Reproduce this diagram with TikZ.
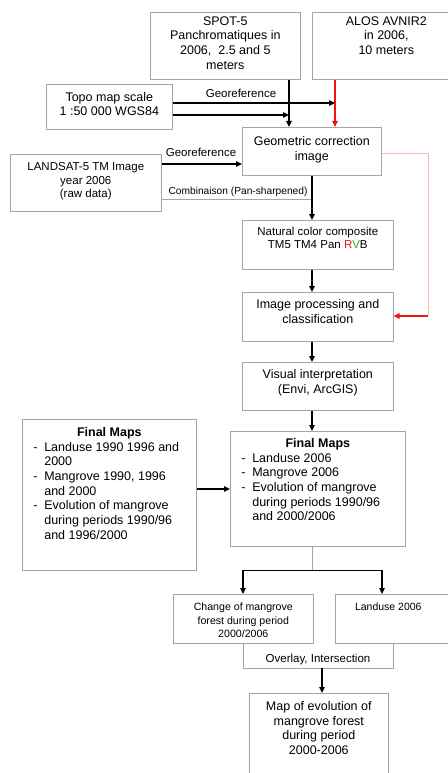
\documentclass[tikz,border=0pt]{standalone}
\usepackage{fontspec}
\setmainfont{Liberation Sans}
\usetikzlibrary{arrows.meta,positioning}
\definecolor{boxgray}{RGB}{165,165,165}
\definecolor{pinkline}{RGB}{245,185,185}
\definecolor{redline}{RGB}{240,20,20}
\definecolor{rvbgreen}{RGB}{60,160,60}
\newcommand{\boxtext}[4]{\parbox[t][#2][t]{#1}{\centering\rule{0pt}{#3}#4\par}}
\newcommand{\itm}[1]{\par\noindent\hspace*{11pt}\makebox[11pt][l]{-}#1}
\newcommand{\cnt}[1]{\par\noindent\hspace*{22pt}#1}

\begin{document}
\begin{tikzpicture}[x=1pt,y=-1pt,
    box/.style={draw=boxgray, line width=0.6pt, inner sep=0pt, anchor=north west},
    big/.style={font=\fontsize{12.5}{14.7}\selectfont},
    mid/.style={font=\fontsize{11.5}{13.8}\selectfont},
    small/.style={font=\fontsize{10.6}{13.7}\selectfont},
    lbl/.style={inner sep=0pt, anchor=base},
    arrow/.style={line width=1.3pt,->,>={Triangle[length=6pt,width=5.5pt]}},
    redarrow/.style={arrow, draw=redline},
    thin/.style={draw=boxgray, line width=0.6pt}]

    \useasboundingbox (0,0) rectangle (447,773);

    % Nodes
    \node [box,big] (spot) at (150,12) {\boxtext{150pt}{67pt}{13pt}{SPOT-5\\Panchromatiques in\\2006,~ 2.5 and 5\\meters}};
    \node [box,big] (alos) at (312,12) {\boxtext{148pt}{67pt}{13pt}{ALOS AVNIR2\\in 2006,\\10 meters}};
    \node [box,big] (topo) at (46,84) {\boxtext{126pt}{45pt}{17pt}{Topo map scale\\1 :50 000 WGS84}};
    \node [box,big] (geom) at (242,127) {\boxtext{139pt}{48pt}{18pt}{Geometric correction\\image}};
    \node [box,mid] (landsat) at (10,154) {\boxtext{151pt}{57pt}{16pt}{LANDSAT-5 TM Image\\year 2006\\(raw data)}};
    \node [box,font=\fontsize{11.5}{13.3}\selectfont] (natural) at (242,220) {\boxtext{151pt}{49pt}{15pt}{Natural color composite\\TM5 TM4 Pan \textcolor{redline}{R}\textcolor{rvbgreen}{V}B}};
    \node [box,big] (improc) at (242,292) {\boxtext{151pt}{49pt}{16pt}{Image processing and\\classification}};
    \node [box,big] (visual) at (242,362) {\boxtext{151pt}{48pt}{16pt}{Visual interpretation\\(Envi, ArcGIS)}};
    \node [box,big] (finL) at (22,419) {\boxtext{174pt}{151pt}{17pt}{\textbf{Final Maps}\par\raggedright
        \itm{Landuse 1990 1996 and}\cnt{2000}\itm{Mangrove 1990, 1996}\cnt{and 2000}%
        \itm{Evolution of mangrove}\cnt{during periods 1990/96}\cnt{and 1996/2000}}};
    \node [box,big] (finR) at (230,431) {\boxtext{175pt}{115pt}{16pt}{\textbf{Final Maps}\par\raggedright
        \itm{Landuse 2006}\itm{Mangrove 2006}\itm{Evolution of mangrove}%
        \cnt{during periods 1990/96}\cnt{and 2000/2006}}};
    \node [box,small] (change) at (173,594) {\boxtext{140pt}{49pt}{16pt}{Change of mangrove\\forest during period\\2000/2006}};
    \node [box,font=\fontsize{10.5}{13.7}\selectfont] (landuse) at (335,594) {\boxtext{125pt}{49pt}{16pt}{\makebox[106pt]{Landuse 2006}\hspace*{19pt}}};
    \node [box,big] (map) at (249,693) {\boxtext{139pt}{95pt}{17pt}{Map of evolution of\\mangrove forest\\during period\\2000-2006}};

    % Labels
    \node [lbl,mid] (geo1) at (241,98) {Georeference};
    \node [lbl,mid] (geo2) at (201,157) {Georeference};
    \node [lbl,font=\fontsize{10.2}{12}\selectfont] (comb) at (238,194) {Combinaison (Pan-sharpened)};
    \node [lbl,mid] (ovl) at (318,662) {Overlay, Intersection};

    % Guide coordinates
    \coordinate (xspot) at (289,0);
    \coordinate (xalos) at (335,0);
    \coordinate (xmain) at (312,0);
    \coordinate (xleft) at (243,0);
    \coordinate (xright) at (382,0);
    \coordinate (xovl) at (393,0);
    \coordinate (xmap) at (322,0);
    \coordinate (xloop) at (428,0);
    \coordinate (ytopoA) at (0,103);
    \coordinate (ytopoB) at (0,115);
    \coordinate (yland) at (0,164);
    \coordinate (ycomb) at (0,199);
    \coordinate (yfin) at (0,489);
    \coordinate (ysplit) at (0,570);
    \coordinate (yovl) at (0,668);
    \coordinate (yloopA) at (0,153);
    \coordinate (yloopB) at (0,316);

    % Arrows
    \draw [arrow] (spot.south -| xspot) -- (geom.north -| xspot);
    \draw [redarrow] (alos.south -| xalos) -- (geom.north -| xalos);
    \draw [arrow] (topo.east |- ytopoA) -- (xalos |- ytopoA);
    \draw [arrow] (topo.east |- ytopoB) -- (xspot |- ytopoB);
    \draw [arrow] (landsat.east |- yland) -- (geom.west |- yland);
    \draw [thin] (landsat.east |- ycomb) -- (xmain |- ycomb);
    \draw [arrow] (geom.south -| xmain) -- (natural.north -| xmain);
    \draw [arrow] (natural.south -| xmain) -- (improc.north -| xmain);
    \draw [arrow] (improc.south -| xmain) -- (visual.north -| xmain);
    \draw [arrow] (visual.south -| xmain) -- (finR.north -| xmain);
    \draw [arrow] (finL.east |- yfin) -- (finR.west |- yfin);
    \draw [thin] (finR.south -| xmain) -- (xmain |- ysplit);
    \draw [line width=0.7pt] (xleft |- ysplit) -- (xright |- ysplit);
    \draw [arrow] (xleft |- ysplit) -- (change.north -| xleft);
    \draw [arrow] (xright |- ysplit) -- (landuse.north -| xright);
    \draw [thin] (change.south -| xleft) -- (xleft |- yovl) -- (xovl |- yovl) -- (landuse.south -| xovl);
    \draw [arrow] (xmap |- yovl) -- (map.north -| xmap);
    \draw [pinkline, line width=0.7pt] (geom.east |- yloopA) -- (xloop |- yloopA) -- (xloop |- yloopB);
    \draw [redarrow] (xloop |- yloopB) -- (improc.east |- yloopB);

\end{tikzpicture}
\end{document}
